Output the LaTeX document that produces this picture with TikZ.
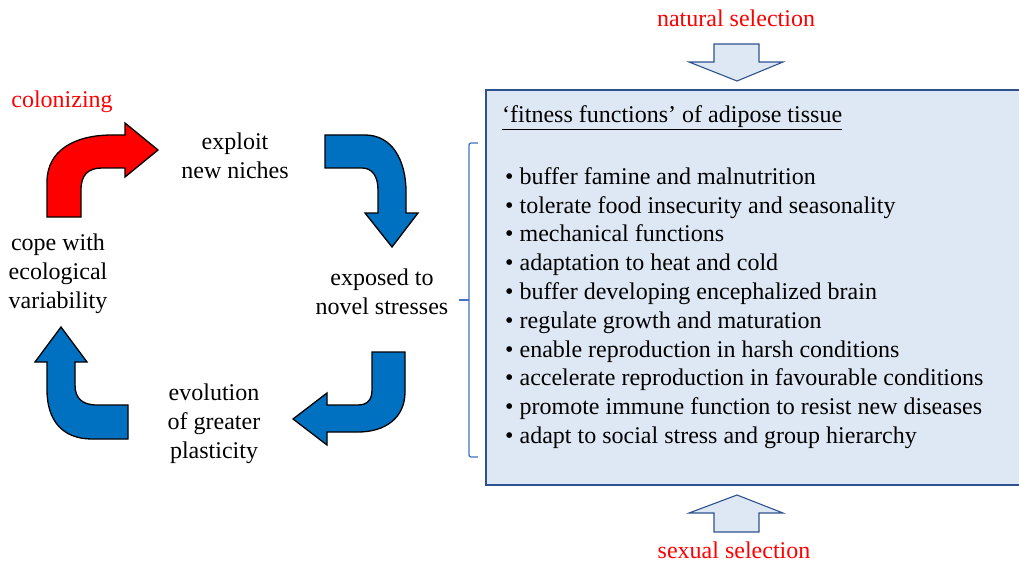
\documentclass[tikz,border=0pt]{standalone}
\usepackage{fontspec}
\setmainfont{Liberation Serif}
\usetikzlibrary{positioning}
\definecolor{cycleblue}{HTML}{0070C0}
\definecolor{boxfill}{HTML}{DEE8F4}
\definecolor{boxline}{HTML}{2F528F}
\definecolor{braceblue}{HTML}{4472C4}

\tikzset{
  cycletext/.style={font=\fontsize{24}{28.8}\selectfont, align=center, inner sep=0pt},
  redtext/.style={cycletext, text=red},
  bentarrow/.style={draw=black, line width=1.3pt, fill=cycleblue, line join=miter},
  selarrow/.style={draw=boxline, line width=1.1pt, fill=boxfill},
}

\begin{document}
\begin{tikzpicture}[x=1pt, y=-1pt]
        \useasboundingbox (0,0) rectangle (1019,564);

        % cycle of bent arrows
        \draw[bentarrow, fill=red] (47,217) -- (47,182) .. controls (47,150) and (75,135) .. (112,135) -- (125,135) -- (125,123) -- (158,150) -- (125,177) -- (125,168) -- (102,168) .. controls (88,168) and (81,175) .. (81,190) -- (81,217) -- cycle;
        \draw[bentarrow] (325,135) -- (365,135) .. controls (392,135) and (406,160) .. (406,192) -- (406,213) -- (418,213) -- (392,247) -- (365,213) -- (378,213) -- (378,190) .. controls (378,176) and (372,168) .. (362,168) -- (325,168) -- cycle;
        \draw[bentarrow] (372,352) -- (405,352) -- (405,392) .. controls (405,418) and (385,432) .. (358,432) -- (327,432) -- (327,445) -- (293,419) -- (327,393) -- (327,405) -- (358,405) .. controls (367,405) and (372,400) .. (372,390) -- cycle;
        \draw[bentarrow] (128,405) -- (97,405) .. controls (82,405) and (75,398) .. (75,385) -- (75,362) -- (87,362) -- (61,327) -- (35,362) -- (47,362) -- (47,390) .. controls (47,420) and (62,439) .. (92,439) -- (128,439) -- cycle;

        \node[redtext] (colonizing) at (62,102) {colonizing};
        \node[cycletext] (exploit) at (235,156) {exploit\\new niches};
        \node[cycletext] (exposed) at (382,292) {exposed to\\novel stresses};
        \node[cycletext] (evolution) at (214,424) {evolution\\of greater\\plasticity};
        \node[cycletext] (cope) at (58,274) {cope with\\ecological\\variability};

        % fitness box
        \draw[selarrow] (486,90) rectangle (1030,485);
        \draw[braceblue, line width=1.3pt, rounded corners=2pt] (478,143) -- (469,143) -- (469,300) -- (469,457) -- (478,457);
        \draw[braceblue, line width=1.3pt] (459,300) -- (469,300);
        \node[cycletext, anchor=base west] (title) at (502,123) {\underline{‘fitness functions’ of adipose tissue}};
        \node[cycletext, align=left, anchor=base west] (functions) at (505,443.5) {• buffer famine and malnutrition\\
            • tolerate food insecurity and seasonality\\
            • mechanical functions\\
            • adaptation to heat and cold\\
            • buffer developing encephalized brain\\
            • regulate growth and maturation\\
            • enable reproduction in harsh conditions\\
            • accelerate reproduction in favourable conditions\\
            • promote immune function to resist new diseases\\
            • adapt to social stress and group hierarchy};

        % selection pressures
        \draw[selarrow] (714,44) -- (759,44) -- (759,62) -- (783,62) -- (737,81) -- (689,62) -- (714,62) -- cycle;
        \draw[selarrow] (714,532) -- (759,532) -- (759,513) -- (783,513) -- (737,495) -- (689,513) -- (714,513) -- cycle;
        \node[redtext] (natural) at (736,18) {natural selection};
        \node[redtext] (sexual) at (734,550) {sexual selection};
\end{tikzpicture}
\end{document}
